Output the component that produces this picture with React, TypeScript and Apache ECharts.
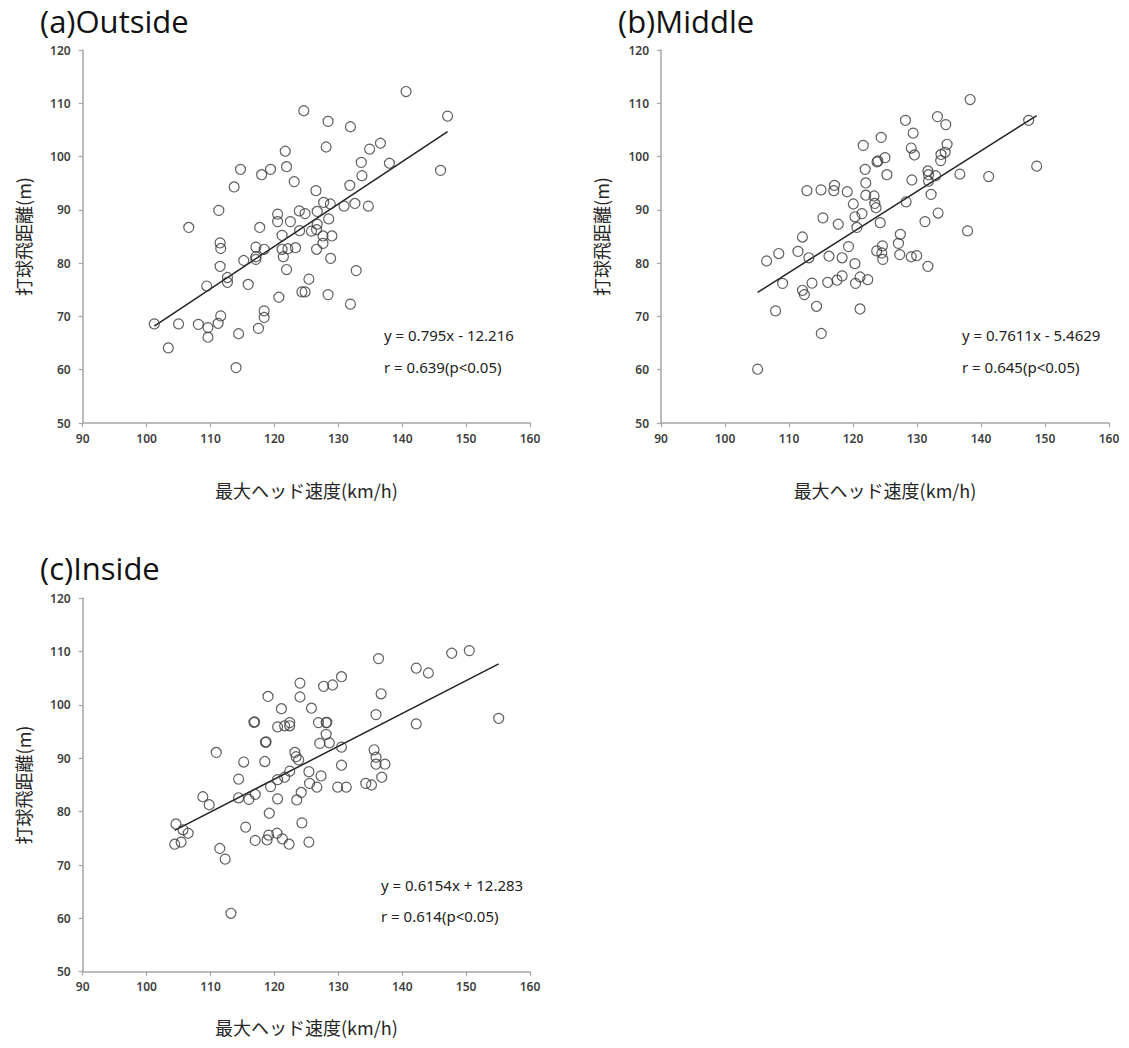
import React, { useEffect, useRef } from "react";
import * as echarts from "echarts";

const titles = ["(a)Outside", "(b)Middle", "(c)Inside"];
const xTicks = [90, 100, 110, 120, 130, 140, 150, 160];
const yTicks = [50, 60, 70, 80, 90, 100, 110, 120];
const xName = "最大ヘッド速度(km/h)";
const yName = "打球飛距離(m)";

const outsidePoints: [number, number][] = [
  [101.2, 68.6], [103.4, 64.1], [105.0, 68.6], [106.6, 86.7], [108.1, 68.5], [109.6, 67.9], [109.6, 66.1],
  [109.4, 75.7], [111.2, 68.7], [111.6, 70.1], [111.5, 79.4], [111.5, 83.8], [111.6, 82.75], [111.3, 89.9],
  [112.65, 77.3], [112.65, 76.4], [113.7, 94.3], [114.0, 60.4], [114.4, 66.75], [114.7, 97.6], [115.2, 80.5],
  [115.9, 76.0], [117.1, 83.0], [117.1, 81.2], [117.1, 80.7], [117.5, 67.75], [117.7, 86.7], [118.0, 96.6],
  [118.4, 82.6], [118.4, 71.05], [118.4, 69.8], [119.4, 97.6], [120.5, 89.2], [120.5, 87.8], [120.7, 73.6],
  [121.2, 85.2], [121.2, 82.6], [121.4, 81.2], [121.7, 101.0], [121.9, 98.1], [121.9, 78.8], [122.1, 82.7],
  [122.5, 87.8], [123.1, 95.3], [123.3, 82.9], [123.9, 89.8], [123.95, 86.1], [124.3, 74.6], [124.8, 74.6],
  [124.6, 108.6], [124.8, 89.3], [125.4, 77.0], [125.8, 86.0], [126.5, 93.6], [126.6, 86.3], [126.6, 82.6],
  [126.7, 89.7], [126.7, 87.3], [127.6, 85.1], [127.6, 83.7], [127.7, 91.4], [128.1, 101.8], [128.4, 106.6],
  [128.4, 74.1], [128.5, 88.3], [128.75, 91.1], [128.8, 80.9], [129.0, 85.1], [130.9, 90.7], [131.8, 94.6],
  [131.9, 105.6], [131.9, 72.3], [132.6, 91.2], [132.8, 78.6], [133.6, 98.9], [133.7, 96.4], [134.7, 90.7],
  [134.9, 101.4], [136.6, 102.5], [138.0, 98.75], [140.6, 112.2], [146.0, 97.4], [147.1, 107.6],
];

const middlePoints: [number, number][] = [
  [105.1, 60.1], [106.5, 80.4], [107.9, 71.05], [108.4, 81.8], [109.0, 76.2], [111.4, 82.2], [112.1, 84.9],
  [112.1, 74.9], [112.4, 74.1], [112.8, 93.6], [113.1, 81.0], [113.6, 76.25], [114.3, 71.9], [115.0, 93.75],
  [115.05, 66.8], [115.3, 88.5], [116.25, 81.3], [116.05, 76.4], [117.1, 94.6], [117.0, 93.6], [117.5, 76.8],
  [117.7, 87.3], [118.3, 77.6], [118.3, 81.0], [119.1, 93.4], [119.3, 83.1], [120.05, 91.1], [120.3, 88.7],
  [120.3, 79.9], [120.4, 76.2], [120.6, 86.7], [121.1, 77.4], [121.1, 71.4], [121.4, 89.3], [121.6, 102.1],
  [121.9, 97.6], [122.0, 95.05], [122.0, 92.75], [122.3, 76.9], [123.3, 92.6], [123.4, 91.2], [123.6, 90.4],
  [123.7, 82.3], [123.75, 99.0], [123.9, 99.2], [124.25, 87.6], [124.4, 103.6], [124.5, 81.9], [124.6, 83.25],
  [124.65, 80.7], [125.0, 99.8], [125.3, 96.6], [127.1, 83.7], [127.3, 81.6], [127.4, 85.4], [128.2, 106.8],
  [128.3, 91.5], [129.1, 101.6], [129.1, 81.2], [129.2, 95.6], [129.4, 104.4], [129.6, 100.3], [129.95, 81.4],
  [131.25, 87.8], [131.7, 97.3], [131.7, 79.4], [131.8, 96.6], [131.8, 95.4], [132.2, 92.9], [132.9, 96.4],
  [133.2, 107.5], [133.3, 89.4], [133.7, 99.25], [133.75, 100.4], [134.4, 100.8], [134.5, 106.0], [134.7, 102.3],
  [136.7, 96.7], [137.9, 86.05], [138.3, 110.7], [141.2, 96.25], [147.45, 106.8], [148.7, 98.2],
];

const insidePoints: [number, number][] = [
  [104.4, 73.9], [104.6, 77.7], [105.4, 74.3], [105.7, 76.6], [106.5, 75.95], [108.8, 82.8], [109.8, 81.3],
  [110.9, 91.1], [111.45, 73.1], [112.3, 71.1], [113.2, 60.95], [114.4, 86.1], [114.4, 82.6], [115.2, 89.3],
  [115.5, 77.1], [116.0, 82.3], [116.8, 96.75], [116.9, 96.85], [117.0, 83.25], [117.0, 74.6], [118.5, 89.4],
  [118.6, 93.0], [118.7, 93.1], [118.85, 74.7], [119.0, 101.6], [119.1, 75.6], [119.2, 79.7], [119.4, 84.7],
  [120.4, 75.95], [120.5, 95.9], [120.5, 86.0], [120.5, 82.4], [121.1, 99.3], [121.25, 74.9], [121.6, 96.1],
  [121.6, 86.45], [122.3, 73.9], [122.4, 96.1], [122.4, 96.7], [122.4, 87.6], [123.2, 91.1], [123.4, 90.3],
  [123.5, 82.2], [123.8, 89.7], [124.0, 104.1], [124.0, 101.5], [124.2, 83.6], [124.3, 77.9], [125.4, 87.5],
  [125.4, 74.3], [125.5, 85.3], [125.8, 99.4], [126.65, 84.6], [126.9, 96.7], [127.1, 92.8], [127.3, 86.7],
  [127.7, 103.5], [128.1, 96.7], [128.2, 96.75], [128.1, 94.5], [128.6, 92.9], [129.1, 103.75], [129.9, 84.6],
  [130.5, 105.3], [130.5, 92.1], [130.5, 88.7], [131.25, 84.6], [134.3, 85.3], [135.2, 85.0], [135.6, 91.6],
  [135.9, 98.2], [135.9, 90.2], [135.9, 88.9], [136.3, 108.7], [136.7, 102.1], [136.8, 86.45], [137.3, 88.9],
  [142.2, 106.9], [142.2, 96.45], [144.1, 106.0], [147.75, 109.7], [150.5, 110.2], [155.1, 97.5],
];

// regression line endpoints
const outsideTrend: [number, number][] = [[101.2, 68.2], [147.1, 104.7]];
const middleTrend: [number, number][] = [[105.1, 74.5], [148.7, 107.7]];
const insideTrend: [number, number][] = [[104.4, 76.5], [155.1, 107.7]];

const equations = ["y = 0.795x - 12.216", "y = 0.7611x - 5.4629", "y = 0.6154x + 12.283"];
const correlations = ["r = 0.639(p<0.05)", "r = 0.645(p<0.05)", "r = 0.614(p<0.05)"];

export default function App() {
  const ref = useRef<HTMLDivElement>(null);
  useEffect(() => {
    if (!ref.current) return;
    const chart = echarts.init(ref.current, null, { renderer: "svg" });
    const grids = [
      { left: 82.7, top: 50, width: 447.3, height: 373 },
      { left: 661, top: 50, width: 448, height: 373 },
      { left: 82.7, top: 598.3, width: 447.3, height: 373.4 },
    ];
    const xNameGaps = [58, 58, 46];
    const pointSets = [outsidePoints, middlePoints, insidePoints];
    const trends = [outsideTrend, middleTrend, insideTrend];
    const axisColor = "#a6a6a6";
    const labelStyle = { fontFamily: "Noto Sans", fontSize: 12, color: "#404040", fontWeight: 600 as const };
    const nameStyle = { fontFamily: "Noto Sans CJK JP", fontSize: 18, color: "#262626" };

    const xAxes = grids.map((_, i) => ({
      type: "value" as const,
      gridIndex: i,
      min: xTicks[0],
      max: xTicks[xTicks.length - 1],
      interval: 10,
      name: xName,
      nameLocation: "middle" as const,
      nameGap: xNameGaps[i],
      nameTextStyle: nameStyle,
      axisLine: { show: true, lineStyle: { color: axisColor, width: 1.5 } },
      axisTick: { show: true, length: 4, lineStyle: { color: axisColor, width: 1.2 } },
      axisLabel: { ...labelStyle, margin: 9 },
      splitLine: { show: false },
    }));
    const yAxes = grids.map((_, i) => ({
      type: "value" as const,
      gridIndex: i,
      min: yTicks[0],
      max: yTicks[yTicks.length - 1],
      interval: 10,
      name: yName,
      nameLocation: "middle" as const,
      nameGap: 51,
      nameTextStyle: nameStyle,
      axisLine: { show: true, lineStyle: { color: axisColor, width: 1.5 } },
      axisTick: { show: true, length: 4, lineStyle: { color: axisColor, width: 1.2 } },
      axisLabel: { ...labelStyle, margin: 12 },
      splitLine: { show: false },
    }));

    const series: any[] = [];
    pointSets.forEach((pts, i) => {
      series.push({
        type: "scatter",
        xAxisIndex: i,
        yAxisIndex: i,
        data: pts,
        symbol: "circle",
        symbolSize: 10,
        itemStyle: { color: "rgba(0,0,0,0)", borderColor: "#3a3a3a", borderWidth: 1.2 },
        z: 3,
      });
      series.push({
        type: "line",
        xAxisIndex: i,
        yAxisIndex: i,
        data: trends[i],
        symbol: "none",
        lineStyle: { color: "#222", width: 1.5 },
        z: 2,
      });
    });

    const titlePos = [
      [40, 21],
      [618, 21],
      [40, 568],
    ];
    const eqPos = [
      [384, 337, 369],
      [962, 337, 369],
      [381, 887, 918],
    ];
    const graphic: any[] = [];
    titles.forEach((t, i) => {
      graphic.push({
        type: "text",
        x: titlePos[i][0],
        y: titlePos[i][1],
        style: {
          text: t,
          fontFamily: "Open Sans",
          fontSize: 31,
          fill: "#111",
          textVerticalAlign: "middle",
          verticalAlign: "middle",
        },
      });
      graphic.push({
        type: "text",
        left: eqPos[i][0],
        top: eqPos[i][1] - 10,
        style: { text: equations[i], fontFamily: "Noto Sans", fontSize: 15, fill: "#222" },
      });
      graphic.push({
        type: "text",
        left: eqPos[i][0],
        top: eqPos[i][2] - 10,
        style: { text: correlations[i], fontFamily: "Noto Sans", fontSize: 15, fill: "#222" },
      });
    });

    chart.setOption({
      animation: false,
      backgroundColor: "#ffffff",
      grid: grids,
      xAxis: xAxes,
      yAxis: yAxes,
      series,
      graphic,
    });
    return () => chart.dispose();
  }, []);
  return (
    <div
      ref={ref}
      style={{ position: "absolute", left: 0, top: 0, width: 1129, height: 1048 }}
    />
  );
}
